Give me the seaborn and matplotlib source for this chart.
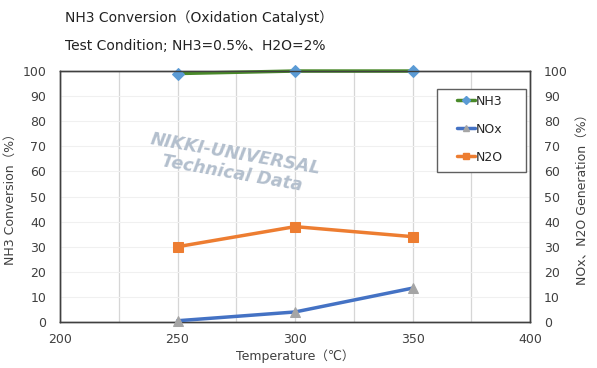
import matplotlib
matplotlib.use("Agg")
import matplotlib.pyplot as plt
import seaborn as sns
import pandas as pd
from matplotlib.ticker import MultipleLocator
from matplotlib.lines import Line2D
from matplotlib.patches import Rectangle

temperature = [250, 300, 350]
nh3_conversion = [99, 100, 100]
nox_generation = [0.5, 4, 13.5]
n2o_generation = [30, 38, 34]

sns.set_theme(style="white")
plt.rcParams['font.family'] = ['DejaVu Sans', 'Noto Sans CJK JP']

fig = plt.figure(figsize=(5.97, 3.68), dpi=100)
ax = fig.add_axes([0.1005, 0.125, 0.7875, 0.682])
ax2 = ax.twinx()

df = pd.DataFrame({"T": temperature, "NH3": nh3_conversion,
                   "NOx": nox_generation, "N2O": n2o_generation})

c_nh3, c_nh3m = "#4A8A2A", "#5B9BD5"
c_nox, c_noxm = "#4472C4", "#A5A5A5"
c_n2o = "#ED7D31"

sns.lineplot(data=df, x="T", y="NH3", ax=ax, color=c_nh3, lw=2.5,
             marker="D", markersize=6, markerfacecolor=c_nh3m,
             markeredgecolor=c_nh3m, zorder=5, clip_on=False)
sns.lineplot(data=df, x="T", y="NOx", ax=ax2, color=c_nox, lw=2.5,
             marker="^", markersize=7, markerfacecolor=c_noxm,
             markeredgecolor=c_noxm, zorder=5, clip_on=False)
sns.lineplot(data=df, x="T", y="N2O", ax=ax2, color=c_n2o, lw=2.5,
             marker="s", markersize=6.5, markerfacecolor=c_n2o,
             markeredgecolor=c_n2o, zorder=5, clip_on=False)

for a in (ax, ax2):
    a.set_ylim(0, 100)
    a.yaxis.set_major_locator(MultipleLocator(10))
    a.tick_params(axis='y', length=0, labelsize=9, pad=10, colors="#404040")
ax.set_xlim(200, 400)
ax.xaxis.set_major_locator(MultipleLocator(50))
ax.xaxis.set_minor_locator(MultipleLocator(25))
ax.tick_params(axis='x', which='both', length=0, labelsize=9, pad=8, colors="#404040")
ax.grid(axis='x', which='both', color="#D6D6D6", lw=0.9)
ax.grid(axis='y', which='major', color="#F0F0F0", lw=0.8)
ax.set_axisbelow(True)
for a in (ax, ax2):
    for s in a.spines.values():
        s.set_color("#404040")
        s.set_linewidth(1.0)

ax.set_xlabel("Temperature（℃）", fontsize=9, color="#404040", labelpad=2)
ax.set_ylabel("NH3 Conversion（%）", fontsize=9, color="#404040", labelpad=4)
ax2.set_ylabel("NOx、N2O Generation（%）", fontsize=9, color="#404040", labelpad=6)
ax2.set_xlabel("")

# legend box
ax2.add_patch(Rectangle((0.802, 0.598), 0.19, 0.33, transform=ax2.transAxes,
                        facecolor="white", edgecolor="#606060", lw=1.0,
                        zorder=8, clip_on=False))
handles = [
    Line2D([], [], color=c_nh3, lw=2.5, marker="D", markersize=4,
           markerfacecolor=c_nh3m, markeredgecolor=c_nh3m),
    Line2D([], [], color=c_nox, lw=2.5, marker="^", markersize=5,
           markerfacecolor=c_noxm, markeredgecolor=c_noxm),
    Line2D([], [], color=c_n2o, lw=2.5, marker="s", markersize=5,
           markerfacecolor=c_n2o, markeredgecolor=c_n2o),
]
leg = ax2.legend(handles, ["NH3", "NOx", "N2O"], loc="upper left",
                 bbox_to_anchor=(0.845, 0.905), frameon=False,
                 fontsize=9, handlelength=1.4, handletextpad=0.1,
                 labelspacing=1.2, borderpad=0, borderaxespad=0)
leg.set_zorder(9)

fig.text(0.109, 0.952, "NH3 Conversion（Oxidation Catalyst）", fontsize=10,
         color="#222222", va="center")
fig.text(0.109, 0.876, "Test Condition; NH3=0.5%、H2O=2%", fontsize=10,
         color="#222222", va="center")

fig.text(0.392, 0.555, "NIKKI-UNIVERSAL\nTechnical Data", fontsize=12.5,
         fontweight="bold", fontstyle="italic", color="#B3BFCD",
         rotation=-10, ha="center", va="center", linespacing=1.1, zorder=10)

fig.savefig("out.png", dpi=100)
